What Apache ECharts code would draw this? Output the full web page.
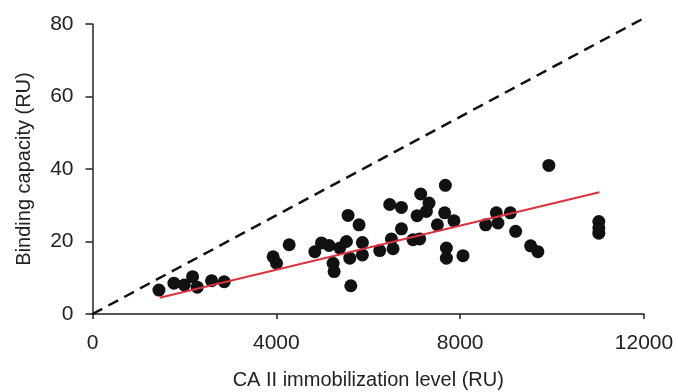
<!DOCTYPE html>
<html>
<head>
<meta charset="utf-8">
<script src="https://cdn.jsdelivr.net/npm/echarts@6/dist/echarts.min.js"></script>
<style>
html,body{margin:0;padding:0;background:#fff;}
#chart{width:678px;height:392px;}
</style>
</head>
<body>
<div id="chart"></div>
<script>
// CA II immobilization level (RU) for each measurement
const immobilization = [
  1446, 1772, 1996, 2178, 2279, 2591, 2866,
  3931, 4004, 4279,
  4837, 4982, 5148, 5235, 5257, 5380, 5525, 5561, 5598, 5620,
  5800, 5873, 5873, 6250, 6467, 6504, 6540, 6722, 6722,
  6974, 7120, 7062, 7141, 7265, 7322, 7504, 7663, 7678, 7700, 7700,
  7865, 8061, 8554, 8787, 8822, 9091, 9207, 9533, 9691, 9930,
  11017, 11017, 11017
];
// Binding capacity (RU) for each measurement
const binding = [
  6.6, 8.5, 8.0, 10.3, 7.4, 9.2, 8.9,
  15.8, 14.0, 19.1,
  17.2, 19.6, 18.9, 14.0, 11.7, 18.2, 20.0, 27.2, 15.4, 7.8,
  24.6, 19.7, 16.3, 17.5, 30.2, 20.7, 18.0, 29.4, 23.5,
  20.5, 20.7, 27.1, 33.1, 28.3, 30.6, 24.6, 27.9, 35.5, 18.2, 15.4,
  25.7, 16.1, 24.6, 27.9, 25.1, 27.9, 22.8, 18.8, 17.2, 41.0,
  25.5, 23.8, 22.3
];
// Linear fit (red) endpoints
const fitX = [1460, 11030];
const fitY = [4.5, 33.6];
// Theoretical maximum (dashed) endpoints
const maxX = [0, 12100];
const maxY = [0, 82.3];

const points = immobilization.map((x, i) => [x, binding[i]]);
const fitLine = fitX.map((x, i) => [x, fitY[i]]);
const maxLine = maxX.map((x, i) => [x, maxY[i]]);

const font = 'Liberation Sans, Arial, sans-serif';
const chart = echarts.init(document.getElementById('chart'));
chart.setOption({
  animation: false,
  backgroundColor: '#fff',
  grid: {left: 92.5, right: 34, top: 24, bottom: 78, containLabel: false, outerBoundsMode: 'none'},
  xAxis: {
    type: 'value', min: 0, max: 12000, interval: 4000,
    name: 'CA II immobilization level (RU)',
    nameLocation: 'middle', nameGap: 56,
    nameTextStyle: {fontFamily: font, fontSize: 20, color: '#222'},
    axisLine: {show: true, onZero: false, lineStyle: {color: '#222', width: 1.5}},
    axisTick: {show: true, length: 5, lineStyle: {color: '#222', width: 1.5}},
    axisLabel: {fontFamily: font, fontSize: 21, color: '#222', margin: 19,
      formatter: v => String(v)},
    splitLine: {show: false}
  },
  yAxis: {
    type: 'value', min: 0, max: 80, interval: 20,
    name: 'Binding capacity (RU)',
    nameLocation: 'middle', nameGap: 58, nameRotate: 90,
    nameTextStyle: {fontFamily: font, fontSize: 20, color: '#222'},
    axisLine: {show: true, onZero: false, lineStyle: {color: '#222', width: 1.5}},
    axisTick: {show: true, length: 7, lineStyle: {color: '#222', width: 1.5}},
    axisLabel: {fontFamily: font, fontSize: 21, color: '#222', margin: 19},
    splitLine: {show: false}
  },
  series: [
    {
      type: 'line', data: maxLine, symbol: 'none', clip: false, z: 1,
      lineStyle: {color: '#111', width: 2.5, type: [11, 7]}
    },
    {
      type: 'scatter', data: points, symbol: 'circle', symbolSize: 13, z: 2,
      itemStyle: {color: '#111', opacity: 1}
    },
    {
      type: 'line', data: fitLine, symbol: 'none', z: 3,
      lineStyle: {color: '#d93340', width: 2}
    }
  ]
});
</script>
</body>
</html>
